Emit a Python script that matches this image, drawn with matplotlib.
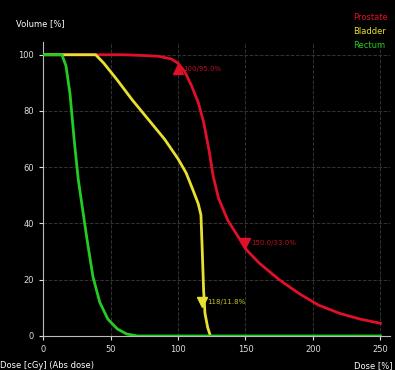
import matplotlib
matplotlib.use("Agg")
from matplotlib import pyplot as plt

# DVH curves (dose, volume %)
red_dose = [0, 60, 85, 95, 100, 105, 110, 115, 119, 123, 126, 130, 137, 145, 150, 160, 175, 190, 204, 220, 235, 250]
red_vol = [100, 100, 99.5, 98.5, 97, 94, 89, 83, 76, 66, 57, 49, 41, 35, 31, 26, 20, 15, 11, 8, 6, 4.5]

yel_dose = [0, 39, 45, 55, 66, 78, 90, 100, 106, 111, 115, 117, 118, 119, 120, 122, 124]
yel_vol = [100, 100, 97, 91, 84, 77, 70, 63, 58, 52, 47, 43, 30, 16, 8, 3, 0]

grn_dose = [0, 14, 17, 20, 23, 26, 29, 33, 37, 42, 48, 55, 62, 70, 250]
grn_vol = [100, 100, 96, 86, 70, 56, 46, 33, 21, 12, 6, 2.5, 0.7, 0, 0]

names = ["Prostate", "Bladder", "Rectum"]
colors = ["#e0102a", "#e8e030", "#22cc22"]

# marker annotations: (dose, volume, label)
marks = [(100, 95, "100/95.0%", "^", colors[0]),
         (150, 33, "150.0/33.0%", "v", colors[0]),
         (118, 12, "118/11.8%", "v", colors[1])]

fig = plt.figure(figsize=(3.95, 3.7), dpi=100, facecolor="black")
ax = fig.add_axes([0.109, 0.092, 0.878, 0.795], facecolor="black")

ax.plot(red_dose, red_vol, color=colors[0], lw=2)
ax.plot(yel_dose, yel_vol, color=colors[1], lw=2)
ax.plot(grn_dose, grn_vol, color=colors[2], lw=2, zorder=5)

for d, v, txt, m, c in marks:
    ax.plot(d, v, marker=m, color=c, ms=7, zorder=6)
    ax.text(d + 4, v, txt, color=c, fontsize=5, va="center", alpha=0.85)

ax.set_xlim(0, 257)
ax.set_ylim(0, 104.6)
ax.set_xticks([0, 50, 100, 150, 200, 250])
ax.set_yticks([0, 20, 40, 60, 80, 100])
ax.grid(True, color="#333333", ls="--", lw=0.7)
ax.tick_params(colors="#dddddd", labelsize=6, length=3)
for s in ["top", "right"]:
    ax.spines[s].set_visible(False)
for s in ["left", "bottom"]:
    ax.spines[s].set_color("#bbbbbb")

fig.text(0.04, 0.93, "Volume [%]", color="white", fontsize=6)
fig.text(0.0, 0.005, "Dose [cGy] (Abs dose)", color="white", fontsize=6)
fig.text(0.895, 0.005, "Dose [%]", color="white", fontsize=6)
for i, (n, c) in enumerate(zip(names, colors)):
    fig.text(0.895, 0.945 - i * 0.037, n, color=c, fontsize=6)

fig.savefig("out.png", dpi=100, facecolor="black")
